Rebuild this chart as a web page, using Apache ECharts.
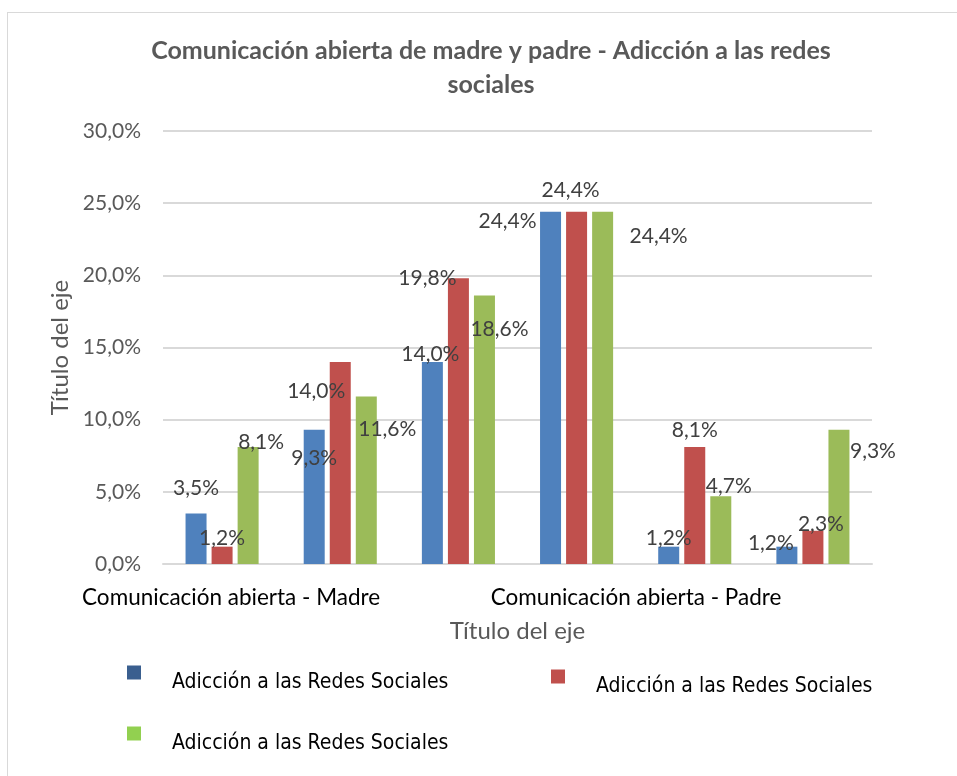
<!DOCTYPE html>
<html>
<head>
<meta charset="utf-8">
<title>Comunicación abierta - Adicción a las redes sociales</title>
<script src="https://cdn.jsdelivr.net/npm/echarts@6/dist/echarts.min.js"></script>
<style>
    html, body { margin: 0; padding: 0; background: #fff; overflow: hidden; }
    #frame {
        position: absolute;
        left: 7px;
        top: 12px;
        width: 1000px;
        height: 1000px;
        border: 1px solid #d9d9d9;
    }
    #main {
        position: absolute;
        left: 0;
        top: 0;
        width: 957px;
        height: 776px;
    }
</style>
</head>
<body>
<div id="frame"></div>
<div id="main"></div>
<script>
// datos
var categories = ['Madre 1', 'Madre 2', 'Madre 3', 'Padre 1', 'Padre 2', 'Padre 3'];
var tickLabels = ['Comunicación abierta - Madre', '', '', 'Comunicación abierta - Padre', '', ''];
var seriesNames = ['Adicción a las Redes Sociales', 'Adicción a las Redes Sociales ', 'Adicción a las Redes Sociales  '];
var serieAzul = [3.5, 9.3, 14.0, 24.4, 1.2, 1.2];
var serieRoja = [1.2, 14.0, 19.8, 24.4, 8.1, 2.3];
var serieVerde = [8.1, 11.6, 18.6, 24.4, 4.7, 9.3];
var yTicks = [0, 5, 10, 15, 20, 25, 30];

// desplazamiento de las etiquetas (como las dejó Excel)
var nudgeAzul = [[0, -25], [0, 28], [-2, -8], [-43, 9], [0, -8], [-16, -3]];
var nudgeRoja = [[0, -8], [-24, 29], [-31, 0], [-6, -22], [0, -17], [8, -7]];
var nudgeVerde = [[13, -5], [21, 33], [15, 34], [56, 24], [8, -10], [34, 21]];

var colores = ['#4F81BD', '#C0504D', '#9BBB59'];
// la leyenda del original tiene tonos algo distintos
var coloresLeyenda = ['#3A5F8F', '#C0504D', '#92D050'];
var fuente = 'Lato, "Open Sans", sans-serif';
var fuenteLeyenda = '"Liberation Sans Narrow", "DejaVu Sans Condensed", sans-serif';

function pct(v) {
    return v.toFixed(1).replace('.', ',') + '%';
}

function buildSeries(idx, values, nudges) {
    return {
        name: seriesNames[idx],
        type: 'bar',
        barWidth: 21,
        barGap: '24%',
        itemStyle: { color: colores[idx] },
        label: {
            show: true,
            position: 'top',
            distance: 0,
            verticalAlign: 'middle',
            fontFamily: fuente,
            fontSize: 21,
            color: '#404040',
            formatter: function (p) { return pct(p.value); }
        },
        data: values.map(function (v, i) {
            return { value: v, label: { offset: nudges[i] } };
        })
    };
}

function buildLegend(idx, left, top) {
    return {
        data: [seriesNames[idx]],
        left: left,
        top: top,
        padding: 0,
        icon: 'rect',
        itemWidth: 14,
        itemHeight: 14,
        itemStyle: { color: coloresLeyenda[idx] },
        selectedMode: false,
        formatter: function (name) { return '{t|' + name.trim() + '}'; },
        textStyle: {
            rich: {
                t: {
                    fontFamily: fuenteLeyenda,
                    fontSize: 21,
                    color: '#000',
                    lineHeight: 22,
                    padding: [20, 0, 0, 26]
                }
            }
        }
    };
}

var myChart = echarts.init(document.getElementById('main'));
myChart.setOption({
    animation: false,
    title: {
        text: 'Comunicación abierta de madre y padre - Adicción a las redes\nsociales',
        left: 486,
        top: 29,
        textAlign: 'center',
        textStyle: {
            fontFamily: fuente,
            fontSize: 25,
            fontWeight: 'bold',
            color: '#595959',
            lineHeight: 34
        }
    },
    legend: [
        buildLegend(0, 127, 652),
        buildLegend(1, 551, 656),
        buildLegend(2, 127, 713)
    ],
    grid: {
        left: 163,
        right: 85,
        top: 131,
        bottom: 212
    },
    xAxis: {
        type: 'category',
        data: categories,
        name: 'Título del eje',
        nameLocation: 'middle',
        nameGap: 55,
        nameTextStyle: { fontFamily: fuente, fontSize: 24, color: '#595959' },
        axisLine: { lineStyle: { color: '#d9d9d9', width: 2 } },
        axisTick: { show: false },
        axisLabel: {
            interval: 0,
            margin: 22,
            fontFamily: fuente,
            fontSize: 22,
            color: '#000',
            formatter: function (v, i) {
                if (!tickLabels[i]) return '';
                return (i === 0 ? '{m|' : '{p|') + tickLabels[i] + '}';
            },
            rich: {
                m: { fontFamily: fuente, fontSize: 22.5, color: '#000', padding: [0, 0, 0, 18] },
                p: { fontFamily: fuente, fontSize: 22.5, color: '#000', padding: [0, 0, 0, 119] }
            }
        }
    },
    yAxis: {
        type: 'value',
        min: yTicks[0],
        max: yTicks[yTicks.length - 1],
        interval: yTicks[1] - yTicks[0],
        name: 'Título del eje',
        nameLocation: 'middle',
        nameGap: 88,
        nameTextStyle: { fontFamily: fuente, fontSize: 24, color: '#595959' },
        axisLine: { show: false },
        axisTick: { show: false },
        axisLabel: {
            margin: 22,
            fontFamily: fuente,
            fontSize: 21,
            color: '#595959',
            formatter: function (v) { return pct(v); }
        },
        splitLine: { lineStyle: { color: '#d9d9d9', width: 2 } }
    },
    series: [
        buildSeries(0, serieAzul, nudgeAzul),
        buildSeries(1, serieRoja, nudgeRoja),
        buildSeries(2, serieVerde, nudgeVerde)
    ]
});
</script>
</body>
</html>
